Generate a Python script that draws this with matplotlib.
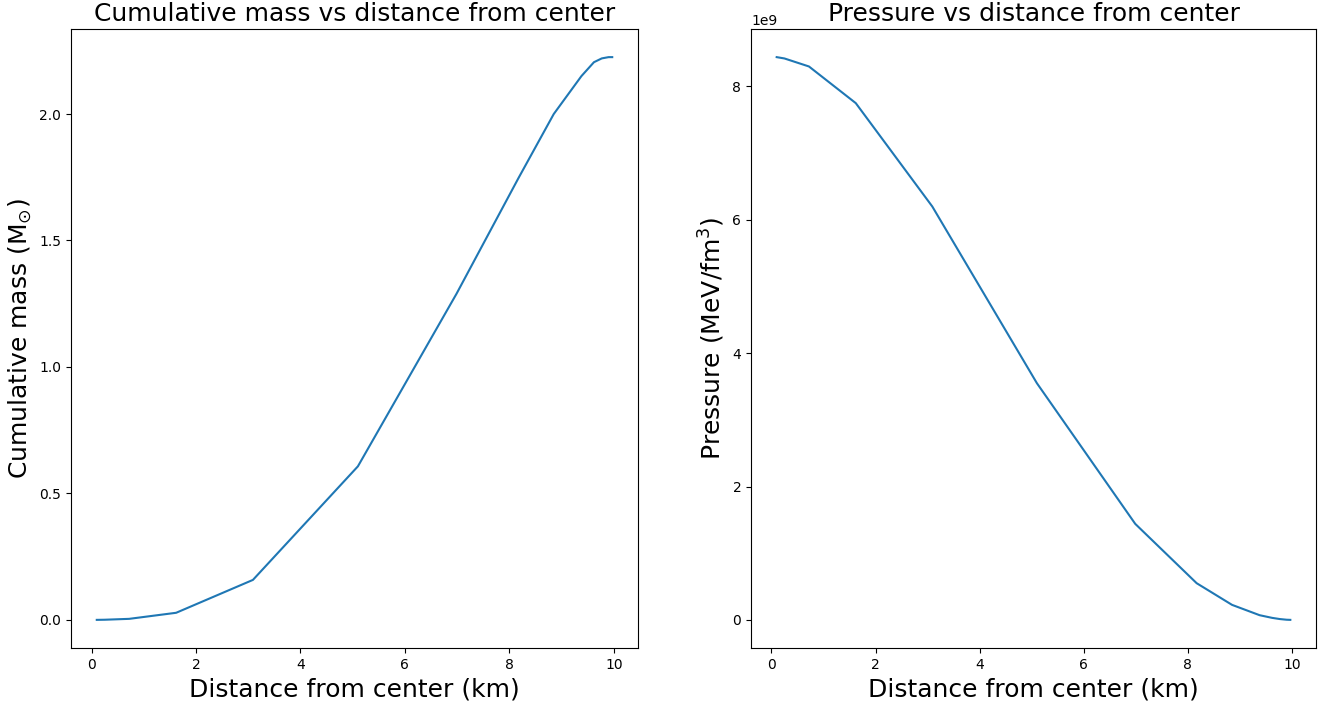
import numpy as np
import matplotlib
matplotlib.use('Agg')
import matplotlib.pyplot as plt

# radius samples (km)
radius = [0.1, 0.25, 0.72, 1.62, 3.09, 5.1, 6.99, 8.17, 8.85, 9.38, 9.62, 9.77, 9.9, 9.97]
# cumulative mass (solar masses)
mass = [0.0, 0.0005, 0.004, 0.028, 0.158, 0.607, 1.29, 1.745, 2.0, 2.15, 2.205, 2.22, 2.225, 2.225]
# pressure (MeV/fm^3)
pressure = [8.44e9, 8.42e9, 8.30e9, 7.75e9, 6.2e9, 3.55e9, 1.44e9, 0.55e9, 0.225e9,
            0.07e9, 0.03e9, 0.012e9, 0.002e9, 0.0]

W, H = 1328, 707
fig = plt.figure(figsize=(W / 100, H / 100), dpi=100)
ax1 = fig.add_axes([71 / W, 59 / H, 567 / W, 619 / H])
ax2 = fig.add_axes([751 / W, 59 / H, 565 / W, 619 / H])

ax1.plot(radius, mass)
ax1.set_title('Cumulative mass vs distance from center', fontsize=18)
ax1.set_xlabel('Distance from center (km)', fontsize=18)
ax1.set_ylabel(r'Cumulative mass (M$_{\odot}$)', fontsize=18)

ax2.plot(radius, pressure)
ax2.set_title('Pressure vs distance from center', fontsize=18)
ax2.set_xlabel('Distance from center (km)', fontsize=18)
ax2.set_ylabel(r'Pressure (MeV/fm$^3$)', fontsize=18)

fig.savefig('out.png', dpi=100)
